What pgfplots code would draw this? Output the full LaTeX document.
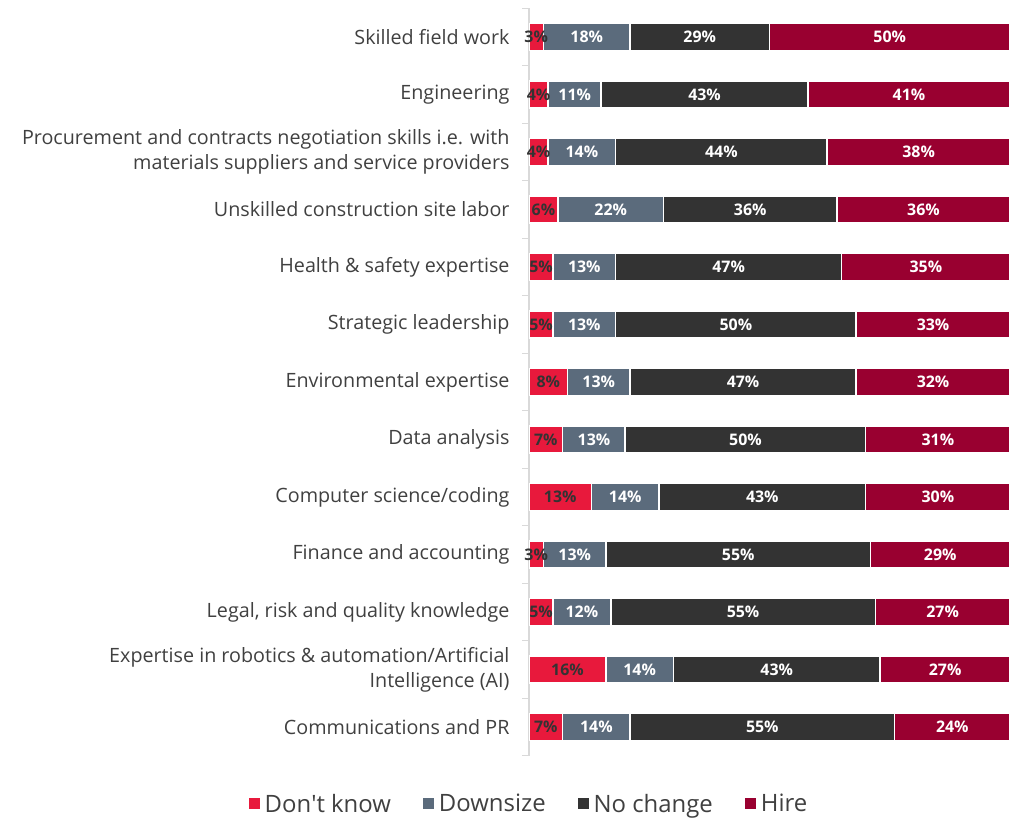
\documentclass[border=0pt]{standalone}
\usepackage{pgfplots}
\pgfplotsset{compat=1.18}
\usepackage{pgfplotstable}
\usepackage{fontspec}
\setmainfont{Open Sans}
\definecolor{cDK}{HTML}{E8193C}
\definecolor{cDS}{HTML}{5B6B7C}
\definecolor{cNC}{HTML}{333333}
\definecolor{cHI}{HTML}{990030}
\definecolor{cText}{HTML}{404040}
\definecolor{cAxis}{HTML}{D9D9D9}
% hi = drawn length (bars fill to 100), hil = printed value
\pgfplotstableread{
idx dk ds nc hi hil
0 3 18 29 50 50
1 4 11 43 42 41
2 4 14 44 38 38
3 6 22 36 36 36
4 5 13 47 35 35
5 5 13 50 32 33
6 8 13 47 32 32
7 7 13 50 30 31
8 13 14 43 30 30
9 3 13 55 29 29
10 5 12 55 28 27
11 16 14 43 27 27
12 7 14 55 24 24
}\datatable
\begin{document}
\begin{tikzpicture}[x=1bp,y=1bp]
\useasboundingbox (0,0) rectangle (1010,818);
\begin{axis}[
  at={(529bp,62.25bp)}, anchor=south west,
  scale only axis, width=481bp, height=747.5bp,
  xbar stacked, bar width=0.47,
  xmin=0, xmax=100,
  ymin=-0.5, ymax=12.5, y dir=reverse,
  axis x line=none,
  axis y line*=left,
  y axis line style={draw=cAxis, line width=1.2pt, -},
  ytick={0,...,12},
  yticklabels={Skilled field work, Engineering, {Procurement and contracts negotiation skills i.e. with\\materials suppliers and service providers}, Unskilled construction site labor, Health \& safety expertise, Strategic leadership, Environmental expertise, Data analysis, Computer science/coding, Finance and accounting, {Legal, risk and quality knowledge}, {Expertise in robotics \& automation/Artificial\\Intelligence (AI)}, Communications and PR},
  yticklabel style={font=\fontsize{19.8}{25}\selectfont, text=cText, align=right, xshift=-16bp},
  major tick length=0pt,
  minor ytick={-0.5,0.5,...,12.5},
  minor tick length=7bp,
  tick align=outside,
  minor tick style={draw=cAxis, line width=1.2pt},
  /pgf/number format/assume math mode=true,
  nodes near coords={\pgfmathprintnumber{\pgfplotspointmeta}\%},
  every node near coord/.append style={font=\bfseries\fontsize{16}{16}\selectfont, text=white},
  legend columns=4,
  legend style={draw=none, at={(0,0)}, anchor=center, yshift=-48bp, font=\fontsize{24}{28}\selectfont, text=cText,
    /tikz/every odd column/.append style={column sep=3bp},
    /tikz/every even column/.append style={column sep=30bp}},
  legend image code/.code={\fill[#1,draw=none] (0bp,-5bp) rectangle (11bp,6bp);},
]
\addplot[fill=cDK, draw=white, line width=1.5pt, every node near coord/.append style={text=cNC}] table[x=dk, y=idx]{\datatable};
\addplot[fill=cDS, draw=white, line width=1.5pt] table[x=ds, y=idx]{\datatable};
\addplot[fill=cNC, draw=white, line width=1.5pt] table[x=nc, y=idx]{\datatable};
\addplot[fill=cHI, draw=white, line width=1.5pt, point meta=explicit] table[x=hi, y=idx, meta=hil]{\datatable};
\legend{Don\textquotesingle t know, Downsize, No change, Hire}
\end{axis}
\end{tikzpicture}
\end{document}
